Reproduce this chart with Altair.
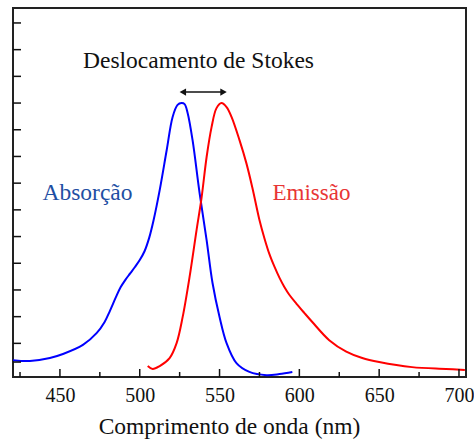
import altair as alt
import pandas as pd

# Absorption spectrum (blue)
abs_nm = [420.6, 431.2, 443.7, 451.9, 464.4, 473.1, 478.0, 481.2, 485.0, 488.0, 491.0, 494.0,
          497.0, 500.0, 503.0, 506.0, 508.7, 512.5, 516.9, 520.6, 523.7, 526.2, 528.1, 530.0,
          533.1, 537.5, 541.9, 545.6, 550.0, 554.4, 560.6, 568.7, 579.4, 587.5, 595.6]
abs_val = [0.037, 0.034, 0.045, 0.060, 0.094, 0.139, 0.180, 0.220, 0.272, 0.310, 0.338, 0.362,
           0.386, 0.412, 0.445, 0.497, 0.562, 0.674, 0.824, 0.948, 0.993, 1.000, 0.996, 0.963,
           0.861, 0.663, 0.487, 0.326, 0.199, 0.101, 0.026, -0.007, -0.019, -0.015, -0.007]

# Emission spectrum (red)
em_nm = [505.0, 508.1, 512.5, 518.7, 523.1, 526.9, 531.2, 535.6, 538.7, 541.9, 545.0, 548.1,
         551.2, 554.4, 557.5, 562.5, 566.8, 570.6, 575.0, 578.1, 581.2, 584.4, 587.5, 590.6,
         593.7, 598.1, 603.1, 608.1, 618.7, 629.4, 639.4, 650.0, 670.6, 691.9, 703.7]
em_val = [0.015, 0.004, 0.015, 0.045, 0.101, 0.199, 0.348, 0.524, 0.644, 0.798, 0.910, 0.981,
          1.000, 0.985, 0.948, 0.861, 0.775, 0.682, 0.562, 0.494, 0.435, 0.387, 0.346, 0.311,
          0.282, 0.249, 0.214, 0.180, 0.112, 0.069, 0.045, 0.030, 0.011, 0.004, 0.000]

x_major = [450, 500, 550, 600, 650, 700]
x_minor = [425, 475, 525, 575, 625, 675]
y_ticks = [0.03, 0.1, 0.2, 0.3, 0.4, 0.5, 0.6, 0.7, 0.8, 0.9, 1.0, 1.1, 1.2, 1.3]

arrow_start = 524.5
arrow_end = 555.0
arrow_y = 1.041

FONT = "Liberation Serif"
xs = alt.Scale(domain=[420.6, 704.4], nice=False, zero=False)
ys = alt.Scale(domain=[-0.026, 1.356], nice=False, zero=False)

abs_df = pd.DataFrame({"nm": abs_nm, "v": abs_val})
em_df = pd.DataFrame({"nm": em_nm, "v": em_val})

x_axis = alt.Axis(values=x_major, ticks=False, domain=False, grid=False,
                  labelFont=FONT, labelFontSize=20, labelColor="#111", labelPadding=8,
                  title="Comprimento de onda (nm)", titleFont=FONT, titleFontSize=23.5,
                  titleFontWeight="normal", titleColor="#111", titlePadding=9,
                  titleX=216, titleAlign="center", titleAnchor="start")
y_axis = alt.Axis(ticks=False, labels=False, domain=False, grid=False, title=None)

abs_line = alt.Chart(abs_df).mark_line(color="#0000ff", strokeWidth=2, interpolate="catmull-rom").encode(
    x=alt.X("nm:Q", scale=xs, axis=x_axis),
    y=alt.Y("v:Q", scale=ys, axis=y_axis),
)
em_line = alt.Chart(em_df).mark_line(color="#ff0000", strokeWidth=2, interpolate="catmull-rom").encode(
    x=alt.X("nm:Q", scale=xs),
    y=alt.Y("v:Q", scale=ys),
)

xmaj = alt.Chart(pd.DataFrame({"t": x_major})).mark_rule(color="#111", strokeWidth=1.5).encode(
    x=alt.X("t:Q", scale=xs), y=alt.value(369), y2=alt.value(361))
xmin = alt.Chart(pd.DataFrame({"t": x_minor})).mark_rule(color="#111", strokeWidth=1.5).encode(
    x=alt.X("t:Q", scale=xs), y=alt.value(369), y2=alt.value(364))
yt = alt.Chart(pd.DataFrame({"t": y_ticks})).mark_rule(color="#111", strokeWidth=1.5).encode(
    y=alt.Y("t:Q", scale=ys), x=alt.value(0), x2=alt.value(8))

arrow_df = pd.DataFrame({"a": [arrow_start + 2], "b": [arrow_end - 2], "y": [arrow_y]})
arrow_line = alt.Chart(arrow_df).mark_rule(color="#111", strokeWidth=1.5).encode(
    x=alt.X("a:Q", scale=xs), x2="b:Q", y=alt.Y("y:Q", scale=ys))
heads_df = pd.DataFrame({"x": [arrow_start + 2.5, arrow_end - 2.5], "y": [arrow_y, arrow_y],
                         "s": ["triangle-left", "triangle-right"]})
heads = alt.Chart(heads_df).mark_point(filled=True, color="#111", size=55, opacity=1).encode(
    x=alt.X("x:Q", scale=xs), y=alt.Y("y:Q", scale=ys),
    shape=alt.Shape("s:N", scale=None, legend=None))

t1 = alt.Chart(pd.DataFrame({"t": ["Deslocamento de Stokes"]})).mark_text(
    font=FONT, fontSize=23.5, color="#111", align="center", baseline="alphabetic").encode(
    text="t:N", x=alt.value(185.5), y=alt.value(60))
t2 = alt.Chart(pd.DataFrame({"t": ["Absorção"]})).mark_text(
    font=FONT, fontSize=23.5, color="#1f4fa3", align="center", baseline="alphabetic").encode(
    text="t:N", x=alt.value(74.5), y=alt.value(192))
t3 = alt.Chart(pd.DataFrame({"t": ["Emissão"]})).mark_text(
    font=FONT, fontSize=23, color="#e83535", align="center", baseline="alphabetic").encode(
    text="t:N", x=alt.value(298.5), y=alt.value(192))

chart = alt.layer(abs_line, em_line, xmaj, xmin, yt, arrow_line, heads, t1, t2, t3).properties(
    width=453, height=369,
    autosize=alt.AutoSizeParams(type="none"),
    padding={"left": 13, "top": 8, "right": 8, "bottom": 64},
    background="white",
).configure_view(stroke="#222", strokeWidth=2)

chart.save("out.html", embed_options={"renderer": "svg", "actions": False})
